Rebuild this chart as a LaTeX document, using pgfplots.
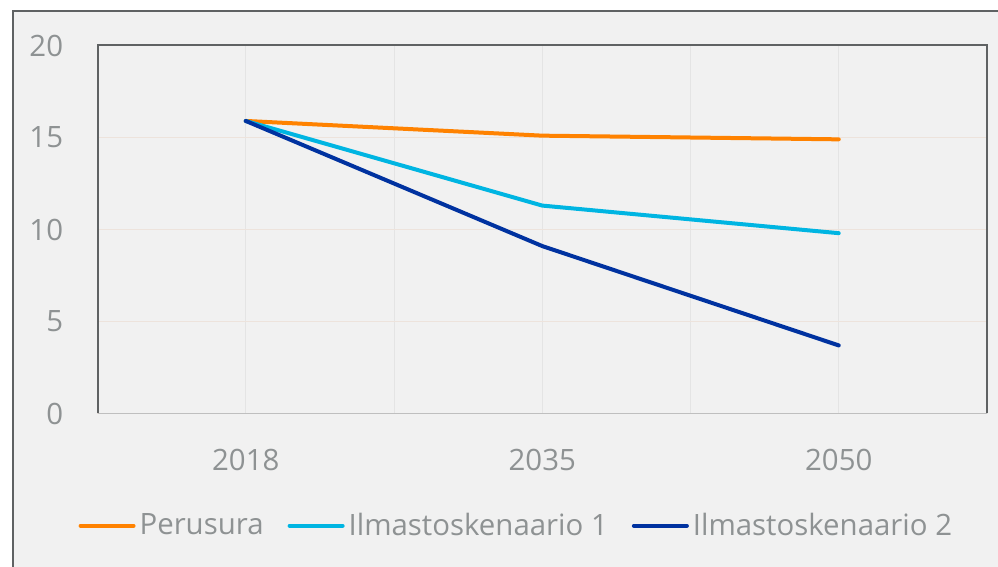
\documentclass[border=0pt]{standalone}
\usepackage{pgfplots}
\pgfplotsset{compat=1.18}
\usepackage{fontspec}
\setmainfont{Open Sans}
\definecolor{bg}{HTML}{F1F1F1}
\definecolor{frame}{HTML}{5F6263}
\definecolor{txt}{HTML}{8E9293}
\definecolor{vgrid}{HTML}{E4E4E4}
\definecolor{hgrid}{HTML}{EDE3DC}
\definecolor{cOrange}{HTML}{FF8200}
\definecolor{cCyan}{HTML}{00B5E2}
\definecolor{cNavy}{HTML}{0032A0}
\begin{document}
\begin{tikzpicture}
\useasboundingbox (0pt,0pt) rectangle (499pt,-283.5pt);
\fill[white] (0pt,0pt) rectangle (499pt,-283.5pt);
\fill[bg] (6.5pt,-5.5pt) rectangle (499pt,-283.5pt);
\draw[frame, line width=1.3pt] (6.5pt,-283.5pt) -- (6.5pt,-5.5pt) -- (499pt,-5.5pt);
\begin{axis}[
  at={(48.75pt,-206.75pt)}, anchor=south west,
  scale only axis, width=444.75pt, height=184pt,
  xmin=-0.5, xmax=2.5, ymin=0, ymax=20,
  xtick={0,1,2}, xticklabels={2018,2035,2050},
  minor xtick={-0.5,0.5,1.5,2.5},
  ytick={0,5,10,15,20},
  xmajorgrids, xminorgrids, ymajorgrids,
  major x grid style={vgrid, line width=0.5pt},
  minor x grid style={vgrid, line width=0.5pt},
  major y grid style={hgrid, line width=0.6pt},
  axis line style={draw=none},
  tick style={draw=none},
  /pgf/number format/assume math mode=true,
  ticklabel style={font=\fontsize{14.7}{17}\selectfont, text=txt},
  yticklabel style={anchor=east, inner sep=0pt, xshift=-17pt},
  xticklabel style={anchor=center, inner sep=0pt, yshift=-23pt},
  legend columns=3,
  legend style={at={(0.472,-0.305)}, anchor=center, draw=none, fill=none,
    font=\fontsize{14.7}{17}\selectfont, text=txt,
    /tikz/every even column/.append style={column sep=10pt}},
  legend image code/.code={\draw[#1, line width=2pt, line cap=round] (0pt,0pt) -- (26.5pt,0pt);},
  every axis plot/.append style={line width=2pt, line cap=round, line join=round},
  clip=false,
]
\addplot[cOrange] coordinates {(0,15.9) (1,15.1) (2,14.9)};
\addlegendentry{Perusura}
\addplot[cCyan] coordinates {(0,15.9) (1,11.3) (2,9.8)};
\addlegendentry{Ilmastoskenaario 1}
\addplot[cNavy] coordinates {(0,15.9) (1,9.1) (2,3.7)};
\addlegendentry{Ilmastoskenaario 2}
\end{axis}
\begin{scope}[shift={(48.75pt,-206.75pt)}]
\draw[frame, line width=1pt] (0,0) -- (0,184pt) -- (444.75pt,184pt) -- (444.75pt,0);
\draw[black!25, line width=0.8pt] (0,0) -- (444.75pt,0);
\end{scope}
\end{tikzpicture}
\end{document}
